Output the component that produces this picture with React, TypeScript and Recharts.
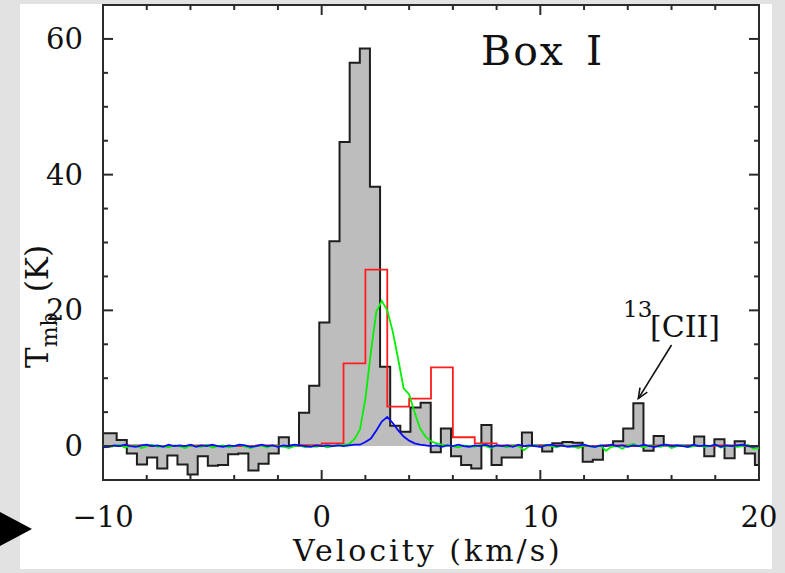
import React from 'react';
import {
  ComposedChart,
  Area,
  Line,
  XAxis,
  YAxis,
  ReferenceArea,
  ReferenceLine,
} from 'recharts';

// layout
const WIDTH = 785;
const HEIGHT = 573;
const MARGIN = { top: 5, right: 26, bottom: 53, left: 43 };
const X_AXIS_H = 40;
const Y_AXIS_W = 60;
const PLOT_W = WIDTH - MARGIN.left - MARGIN.right - Y_AXIS_W;
const PLOT_H = HEIGHT - MARGIN.top - MARGIN.bottom - X_AXIS_H;

const FONT = '"DejaVu Serif", serif';
const INK = '#111';
const AXIS = '#2b2b2b';

// ticks
const X_TICKS = [-10, -8, -6, -4, -2, 0, 2, 4, 6, 8, 10, 12, 14, 16, 18, 20];
const X_LABELS = [-10, 0, 10, 20];
const Y_TICKS = [0, 5, 10, 15, 20, 25, 30, 35, 40, 45, 50, 55, 60];
const Y_LABELS = [0, 20, 40, 60];

// [CII] spectrum, channel centres start at GRAY_V0 with width GRAY_DV (km/s)
const GRAY_V0 = -10.07;
const GRAY_DV = 0.4633;
const GRAY_T = [
  1.9, 1.9, 0.9, -1.1, -2.7, -1.7, -3.3, -1.4, -2.7, -4.2,
  -1.5, -2.9, -2.8, -1.2, -1.1, -3.6, -2.6, -1.1, 1.3, 0.1,
  4.9, 8.9, 18.2, 30.2, 44.8, 56.5, 58.6, 38.2, 11.7, 3.0,
  2.1, 5.7, 6.4, -0.9, 2.6, -1.5, -2.8, -3.3, 3.1, -2.8,
  -1.7, -1.7, 2.0, 0.1, -0.8, 0.4, 0.6, 0.5, -2.3, -2.0,
  0.1, 0.7, 2.6, 6.3, -0.7, 1.5, 0.1, 0.1, 0.1, 1.4,
  -1.5, 1.0, -1.8, 0.7, -1.1, -2.8,
];

// coarse spectrum, 1 km/s bins given by left edges (last entry closes the final bin)
const RED_V = [
  -10, -9, -8, -7, -6, -5, -4, -3, -2, -1, 0, 1, 2, 3, 4, 5,
  6, 7, 8, 9, 10, 11, 12, 13, 14, 15, 16, 17, 18, 19, 20,
];
const RED_T = [
  0.0, 0.1, 0.0, 0.0, 0.1, 0.0, 0.0, 0.1, 0.0, 0.15, 0.4, 12.2, 26.0, 5.8, 7.0, 11.6,
  1.3, 0.4, 0.1, 0.0, 0.1, 0.0, 0.0, 0.1, 0.0, 0.1, 0.0, 0.0, 0.1, 0.0, 0.0,
];

// fine-resolution spectra on a 0.25 km/s grid from -10 to 20
const FINE_V0 = -10;
const FINE_DV = 0.25;
const GREEN_T = [
  0.1, -0.1, 0.0, 0.2, -0.2, 0.0, 0.1, -0.3, 0.0, 0.2,
  -0.1, 0.0, -0.2, 0.1, 0.0, -0.3, 0.1, 0.0, -0.1, 0.2,
  -0.2, 0.0, 0.1, -0.2, 0.0, 0.2, -0.1, -0.3, 0.0, 0.1,
  -0.2, 0.1, 0.0, -0.1, -0.3, 0.0, 0.1, -0.2, 0.0, -0.1,
  0.1, -0.2, 0.0, 0.1, 0.2,
  0.3, 1.0, 2.4, 7.0, 13.8, 19.8, 21.4, 20.0, 16.9, 12.8,
  8.5, 7.6, 5.0, 2.6, 1.4, 0.7, 0.4, 0.2,
  0.1, 0.0, -0.2, 0.1, 0.0, -0.1, 0.2, 0.0, -0.3, 0.1,
  0.0, -0.2, 0.1, 0.0, -0.6, 0.0, 0.1, -0.1, 0.2, 0.0,
  -0.2, 0.1, 0.0, -0.1, -0.3, 0.1, 0.0, -0.2, 0.1, -0.7,
  -0.1, 0.0, -0.4, 0.1, 0.3, 0.0, -0.2, 0.1, 0.0, -0.1,
  0.2, -0.3, 0.0, 0.1, -0.2, 0.0, 0.1, -0.1, 0.0, 0.2,
  -0.2, 0.0, 0.1, -0.1, 0.0, 0.2, -0.4, -0.3,
];
const BLUE_T = [
  -0.2, -0.1, 0.1, 0.0, 0.2, 0.0, -0.1, 0.1, 0.2, 0.0,
  0.1, -0.1, 0.2, 0.0, 0.1, 0.0, 0.2, -0.1, 0.1, 0.0,
  0.2, 0.0, -0.1, 0.1, 0.0, 0.2, 0.1, -0.1, 0.0, 0.2,
  0.0, 0.1, -0.1, 0.1, 0.0, 0.2, 0.1, 0.0, -0.1, 0.1,
  0.0, 0.1, 0.0,
  0.1, 0.0, 0.1, 0.2, 0.2, 0.6, 1.1, 2.3, 3.6, 4.3,
  3.4, 2.3, 1.4, 0.8, 0.4, 0.2, 0.1,
  0.0, 0.1, -0.1, 0.1, 0.0, 0.2, 0.0, -0.1, 0.1, 0.0,
  0.2, -0.1, 0.1, 0.0, 0.1, -0.1, 0.2, 0.0, 0.1, 0.0,
  -0.1, 0.1, 0.2, 0.0, 0.1, -0.1, 0.0, 0.1, 0.2, 0.0,
  -0.1, 0.1, 0.0, 0.2, 0.0, 0.1, -0.1, 0.1, 0.0, 0.2,
  0.0, -0.1, 0.1, 0.2, 0.0, 0.1, 0.0, -0.1, 0.2, 0.0,
  0.1, 0.0, 0.2, -0.1, 0.1, 0.0, 0.1, 0.2, 0.0, -0.1,
  0.0,
];

// 13[CII] pointer: from label to line peak (km/s, K)
const ARROW = [
  { x: 16.0, y: 14.9 },
  { x: 14.48, y: 7.0 },
];

const gray = GRAY_T.map((t, i) => ({ v: GRAY_V0 + i * GRAY_DV, t }));
const red = RED_V.map((v, i) => ({ v, t: RED_T[i] }));
const green = GREEN_T.map((t, i) => ({ v: FINE_V0 + i * FINE_DV, t }));
const blue = BLUE_T.map((t, i) => ({ v: FINE_V0 + i * FINE_DV, t }));

const fmt = (v: number) => (v < 0 ? `\u2212${-v}` : `${v}`);

function XTick(props: any) {
  const { x, y, payload } = props;
  const major = X_LABELS.includes(payload.value);
  const len = major ? 10 : 5;
  const top = y - PLOT_H;
  return (
    <g>
      <line x1={x} x2={x} y1={y} y2={y - len} stroke={AXIS} strokeWidth={2} />
      <line x1={x} x2={x} y1={top} y2={top + len} stroke={AXIS} strokeWidth={2} />
      {major && (
        <text x={x} y={y + 47} textAnchor="middle" fontSize={29} fontFamily={FONT} fill={INK}>
          {fmt(payload.value)}
        </text>
      )}
    </g>
  );
}

function YTick(props: any) {
  const { x, y, payload } = props;
  const major = Y_LABELS.includes(payload.value);
  const len = major ? 10 : 5;
  const right = x + PLOT_W;
  return (
    <g>
      <line x1={x} x2={x + len} y1={y} y2={y} stroke={AXIS} strokeWidth={2} />
      <line x1={right} x2={right - len} y1={y} y2={y} stroke={AXIS} strokeWidth={2} />
      {major && (
        <text x={x - 20} y={y + 10} textAnchor="end" fontSize={29} fontFamily={FONT} fill={INK}>
          {fmt(payload.value)}
        </text>
      )}
    </g>
  );
}

function Pointer(props: any) {
  const { x1, y1, x2, y2 } = props;
  const a = Math.atan2(y2 - y1, x2 - x1);
  const head = 11;
  const spread = 0.4;
  const hx1 = x2 - head * Math.cos(a - spread);
  const hy1 = y2 - head * Math.sin(a - spread);
  const hx2 = x2 - head * Math.cos(a + spread);
  const hy2 = y2 - head * Math.sin(a + spread);
  return (
    <g>
      <line x1={x1} y1={y1} x2={x2} y2={y2} stroke={INK} strokeWidth={1.6} />
      <polyline points={`${hx1},${hy1} ${x2},${y2} ${hx2},${hy2}`} fill="none" stroke={INK} strokeWidth={1.6} />
    </g>
  );
}

export default function App() {
  return (
    <div
      style={{
        position: 'fixed',
        left: 0,
        top: 0,
        width: WIDTH,
        height: HEIGHT,
        background: '#e2e2e2',
        overflow: 'hidden',
      }}
    >
      <div style={{ position: 'absolute', left: 20, top: 4, width: 752, height: 565, background: '#fff' }} />
      <div style={{ position: 'absolute', left: 0, top: 0 }}>
        <ComposedChart width={WIDTH} height={HEIGHT} margin={MARGIN}>
          <XAxis
            type="number"
            dataKey="v"
            domain={[-10, 20]}
            allowDataOverflow
            ticks={X_TICKS}
            interval={0}
            tick={(p: any) => <XTick {...p} />}
            tickLine={false}
            axisLine={false}
            tickSize={0}
            tickMargin={0}
            height={X_AXIS_H}
          />
          <YAxis
            type="number"
            domain={[-5, 65]}
            allowDataOverflow
            ticks={Y_TICKS}
            interval={0}
            tick={(p: any) => <YTick {...p} />}
            tickLine={false}
            axisLine={false}
            tickSize={0}
            tickMargin={0}
            width={Y_AXIS_W}
          />
          <Area
            data={gray}
            dataKey="t"
            type="step"
            baseValue={0}
            fill="#bdbdbd"
            fillOpacity={1}
            stroke="#1e1e1e"
            strokeWidth={2}
            isAnimationActive={false}
          />
          <Line data={red} dataKey="t" type="stepAfter" stroke="#ff1c1c" strokeWidth={1.8} dot={false} isAnimationActive={false} />
          <Line data={green} dataKey="t" type="linear" stroke="#00f000" strokeWidth={1.8} dot={false} isAnimationActive={false} />
          <Line data={blue} dataKey="t" type="linear" stroke="#0a0aff" strokeWidth={1.8} dot={false} isAnimationActive={false} />
          <ReferenceLine segment={ARROW} ifOverflow="visible" shape={(p: any) => <Pointer {...p} />} />
          <ReferenceArea x1={-10} x2={20} y1={-5} y2={65} fill="none" stroke={AXIS} strokeWidth={2} ifOverflow="visible" />
        </ComposedChart>
      </div>
      <svg
        width={WIDTH}
        height={HEIGHT}
        style={{ position: 'absolute', left: 0, top: 0, pointerEvents: 'none' }}
        fontFamily={FONT}
        fill={INK}
      >
        <text x={481} y={65} fontSize={41} letterSpacing={2}>
          Box
          <tspan x={586}>I</tspan>
        </text>
        <text x={623} y={317} fontSize={23}>13</text>
        <text x={650} y={337} fontSize={30}>[CII]</text>
        <text x={293} y={561} fontSize={30} letterSpacing={3}>Velocity (km/s)</text>
        <text transform="translate(48,368) rotate(-90)" fontSize={31}>
          T
          <tspan dy={9} fontSize={22}>mb</tspan>
          <tspan dy={-9} dx={20}>(K)</tspan>
        </text>
        <polygon points="0,512 32,529 0,546" fill="#000" />
      </svg>
    </div>
  );
}
